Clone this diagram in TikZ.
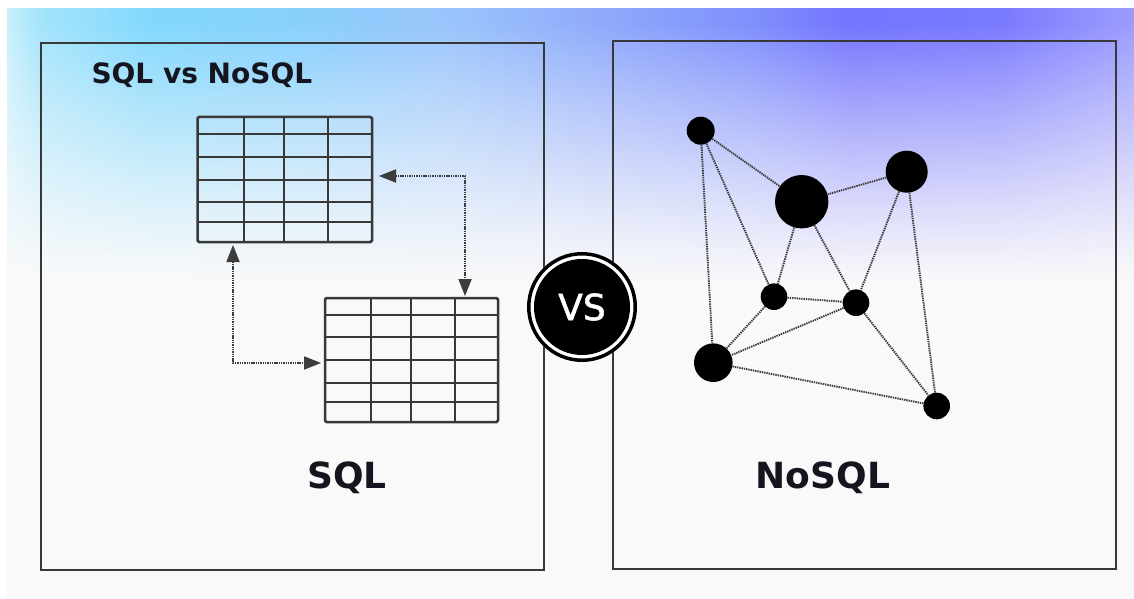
\documentclass[tikz,border=0pt]{standalone}
\usepackage{fontspec}
\setmainfont{DejaVu Sans}
\newfontfamily\vsfont[FakeBold=1.5]{DejaVu Sans}
\usetikzlibrary{arrows.meta}
\definecolor{bgbase}{HTML}{F9F9FA}
\definecolor{g0}{HTML}{C8F0FC}
\definecolor{g1}{HTML}{A4E4FC}
\definecolor{g2}{HTML}{82D8FC}
\definecolor{g3}{HTML}{88D0FC}
\definecolor{g4}{HTML}{9AC4FB}
\definecolor{g5}{HTML}{90AAFB}
\definecolor{g6}{HTML}{8090FC}
\definecolor{g7}{HTML}{7474FF}
\definecolor{g8}{HTML}{7A7AFF}
\definecolor{g9}{HTML}{9C9CFE}
\colorlet{h0}{g0}\colorlet{h1}{g1}\colorlet{h2}{g2}\colorlet{h3}{g3}\colorlet{h4}{g4}
\colorlet{h5}{g5}\colorlet{h6}{g6}\colorlet{h7}{g7}\colorlet{h8}{g8}\colorlet{h9}{g9}
\definecolor{ink}{HTML}{151520}
\definecolor{lineink}{HTML}{383838}
\definecolor{dotink}{HTML}{3C3C3C}
\pgfdeclarehorizontalshading[h0,h1,h2,h3,h4,h5,h6,h7,h8,h9]{stripgrad}{100bp}{color(0bp)=(h0); color(25bp)=(h0); color(26.46bp)=(h1); color(31.34bp)=(h2); color(38bp)=(h3); color(44.65bp)=(h4); color(51.3bp)=(h5); color(57.96bp)=(h6); color(62.4bp)=(h7); color(69.06bp)=(h8); color(75bp)=(h9); color(100bp)=(h9)}
\tikzset{
  panel/.style={draw=lineink, line width=2pt, rectangle, inner sep=0pt},
  tableframe/.style={draw=lineink, line width=2.5pt, rounded corners=1.5pt, rectangle, inner sep=0pt},
  gridline/.style={draw=lineink, line width=2pt},
  dotarrow/.style={draw=dotink, line width=1.8pt, dash pattern=on 1.4pt off 0.9pt,
    {Triangle[length=17pt,width=13pt]}-{Triangle[length=17pt,width=13pt]}},
  gnode/.style={circle, fill=black, inner sep=0pt},
  gedge/.style={draw=dotink, line width=1.9pt, dash pattern=on 1.4pt off 0.9pt},
  label/.style={text=ink, anchor=base},
}
\begin{document}
\begin{tikzpicture}[x=1pt,y=-1pt]
\useasboundingbox (0,0) rectangle (1134,599);
% background
\fill[white] (0,0) rectangle (1134,599);
\fill[bgbase] (7,9) rectangle (1134,599);
\foreach \k in {0,...,92}{
  \pgfmathsetmacro\ya{9+3*\k}
  \pgfmathsetmacro\yb{\ya+3.6}
  \pgfmathsetmacro\tt{max(0.001,min(1,(285-(\ya+1.5))/260))}
  \pgfmathsetmacro\p{100*pow(\tt,1.2)}
  \colorlet{h0}{g0!\p!bgbase}\colorlet{h1}{g1!\p!bgbase}\colorlet{h2}{g2!\p!bgbase}
  \colorlet{h3}{g3!\p!bgbase}\colorlet{h4}{g4!\p!bgbase}\colorlet{h5}{g5!\p!bgbase}
  \colorlet{h6}{g6!\p!bgbase}\colorlet{h7}{g7!\p!bgbase}\colorlet{h8}{g8!\p!bgbase}
  \colorlet{h9}{g9!\p!bgbase}
  \shade[shading=stripgrad] (7,\ya) rectangle (1134,\yb);
}
% panels
\node[panel, minimum width=503pt, minimum height=527pt] (lbox) at (292.5,306.5) {};
\node[panel, minimum width=503pt, minimum height=527.5pt] (rbox) at (864,305.25) {};
% title
\node[label, anchor=base west, font=\fontsize{28}{30}\selectfont\bfseries] (title) at (88,83.5) {SQL vs NoSQL};
% table 1
\node[tableframe, minimum width=174.5pt, minimum height=125pt] (t1) at (284.75,179.5) {};
\foreach \x in {244,284,328} \draw[gridline] (\x,117) -- (\x,242);
\foreach \y in {134,157,180,202,222} \draw[gridline] (197.5,\y) -- (372,\y);
% table 2
\node[tableframe, minimum width=173pt, minimum height=124pt] (t2) at (411.5,360) {};
\foreach \x in {371,411,455} \draw[gridline] (\x,298) -- (\x,422);
\foreach \y in {315,337,360,383,402} \draw[gridline] (325,\y) -- (498,\y);
% dotted arrows
\coordinate (a1s) at (379,176);
\coordinate (a1e) at (465,296);
\coordinate (a2s) at (233,245);
\coordinate (a2e) at (321,363);
\draw[dotarrow] (a1s) -| (a1e);
\draw[dotarrow] (a2s) |- (a2e);
% graph
\node[gnode, minimum size=28pt] (A) at (700.7,130.7) {};
\node[gnode, minimum size=53.4pt] (B) at (801.7,201.7) {};
\node[gnode, minimum size=42pt] (C) at (906.7,171.7) {};
\node[gnode, minimum size=26.6pt] (D) at (774,296.7) {};
\node[gnode, minimum size=26.6pt] (E) at (856,302.7) {};
\node[gnode, minimum size=38.6pt] (F) at (713.3,362.7) {};
\node[gnode, minimum size=26.6pt] (G) at (936.7,406) {};
\draw[gedge] (A) -- (B);
\draw[gedge] (A) -- (F);
\draw[gedge] (A) -- (D);
\draw[gedge] (B) -- (C);
\draw[gedge] (B) -- (D);
\draw[gedge] (B) -- (E);
\draw[gedge] (C) -- (E);
\draw[gedge] (C) -- (G);
\draw[gedge] (D) -- (E);
\draw[gedge] (D) -- (F);
\draw[gedge] (E) -- (F);
\draw[gedge] (E) -- (G);
\draw[gedge] (F) -- (G);
% labels
\node[label, font=\fontsize{36}{38}\selectfont\bfseries] (sql) at (347,488) {SQL};
\node[label, font=\fontsize{36}{38}\selectfont\bfseries] (nosql) at (823,488) {NoSQL};
% VS badge
\fill[white] (582,307) circle[radius=55];
\draw[black, line width=3.5pt] (582,307) circle[radius=53.25];
\node[circle, fill=black, minimum size=96pt, inner sep=0pt, text=white, font=\vsfont\fontsize{36}{36}\selectfont] (vs) at (582,307) {VS};
\end{tikzpicture}
\end{document}
